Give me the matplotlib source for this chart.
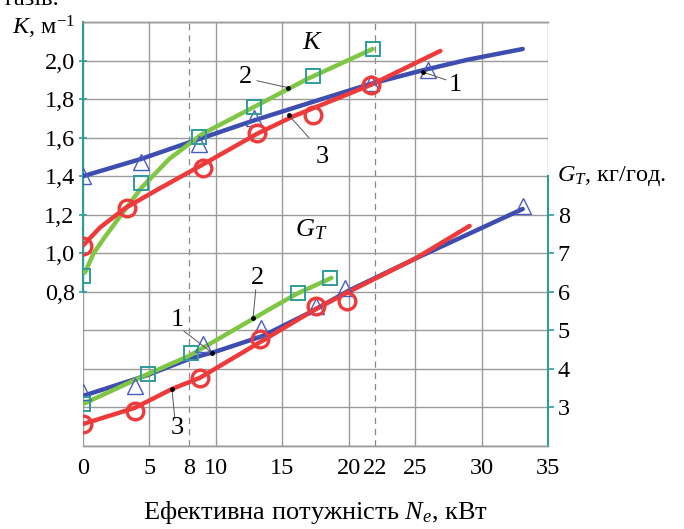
import matplotlib
matplotlib.use("Agg")
import matplotlib.pyplot as plt

plt.rcParams['font.family'] = ['Liberation Serif', 'DejaVu Serif']
plt.rcParams['mathtext.fontset'] = 'custom'
plt.rcParams['mathtext.rm'] = 'Liberation Serif'
plt.rcParams['mathtext.it'] = 'Liberation Serif:italic'

# K (left axis) - fitted lines
k1_x = [0, 4.4, 8.4, 12.9, 17.5, 21.7, 25.6, 29, 33.1]
k1_y = [1.40, 1.49, 1.585, 1.69, 1.79, 1.88, 1.95, 2.005, 2.06]
k2_x = [0.15, 0.8, 1.6, 3.2, 4.4, 6.5, 9.0, 12.9, 16.9, 21.8]
k2_y = [0.90, 1.00, 1.08, 1.23, 1.34, 1.49, 1.62, 1.76, 1.905, 2.06]
k3_x = [0, 1.3, 3.2, 5.6, 9.0, 13.1, 15.8, 21.7, 26.9]
k3_y = [1.04, 1.135, 1.235, 1.33, 1.46, 1.62, 1.71, 1.875, 2.05]
# K measured points
k1_px = [0, 4.4, 8.7, 12.9, 21.7, 26.0]
k1_py = [1.40, 1.475, 1.565, 1.70, 1.885, 1.95]
k2_px = [0, 4.4, 8.7, 12.9, 17.3, 21.8]
k2_py = [0.88, 1.365, 1.605, 1.76, 1.92, 2.06]
k3_px = [0, 3.3, 9.0, 13.1, 17.3, 21.7]
k3_py = [1.04, 1.235, 1.44, 1.625, 1.72, 1.875]

# G_T (right axis) - fitted lines
g1_x = [0, 4.7, 8.0, 10.0, 13.5, 17.0, 20.0, 25.0, 33.1]
g1_y = [3.30, 3.82, 4.26, 4.45, 4.85, 5.45, 6.03, 6.86, 8.15]
g2_x = [0, 4.9, 8.0, 12.8, 14.4, 16.1, 18.7]
g2_y = [3.09, 3.87, 4.34, 5.30, 5.62, 5.95, 6.36]
g3_x = [0, 3.9, 6.7, 8.8, 13.5, 17.5, 20.0, 25.0, 29.1]
g3_y = [2.57, 2.99, 3.48, 3.77, 4.73, 5.55, 6.00, 6.86, 7.71]
# G_T measured points
g1_px = [0, 3.9, 9.0, 13.4, 17.5, 19.7, 33.1]
g1_py = [3.40, 3.55, 4.65, 5.05, 5.62, 6.10, 8.23]
g2_px = [0, 4.9, 8.1, 16.2, 18.6]
g2_py = [3.09, 3.87, 4.40, 5.97, 6.37]
g3_px = [0, 3.9, 8.8, 13.3, 17.5, 19.9]
g3_py = [2.57, 2.92, 3.77, 4.78, 5.62, 5.77]

x_ticks = [0, 5, 8, 10, 15, 20, 22, 25, 30, 35]
k_ticks = [0.8, 1.0, 1.2, 1.4, 1.6, 1.8, 2.0]
g_ticks = [3, 4, 5, 6, 7, 8]

blue = '#3d4db0'
red = '#ee3a3a'
green = '#80c645'
teal = '#2f9c9c'
grid = '#9a9a9a'
fs = 17.5

fig = plt.figure(figsize=(6.84, 5.29), dpi=100)
ax = fig.add_axes([83 / 684, 83 / 529, 465 / 684, 424 / 529])
ax2 = ax.twinx()

ax.set_xlim(0, 35)
ax.set_ylim(0, 2.2)
ax2.set_ylim(2, 13)

# grid
for xv in [0, 5, 10, 15, 20, 25, 30, 35]:
    ax.axvline(xv, color=grid, lw=1, zorder=0)
for xv in [8, 22]:
    ax.axvline(xv, color='#888888', lw=0.9, ls=(0, (5, 4)), zorder=0)
for i in range(12):
    ax.axhline(i * 0.2, color=grid, lw=1, zorder=0)

lw = 3.2
ax.plot(k1_x, k1_y, color=blue, lw=lw, solid_capstyle='round', solid_joinstyle='round', zorder=3)
ax.plot(k2_x, k2_y, color=green, lw=lw, solid_capstyle='round', solid_joinstyle='round', zorder=3)
ax.plot(k3_x, k3_y, color=red, lw=lw, solid_capstyle='round', solid_joinstyle='round', zorder=3)
ax2.plot(g1_x, g1_y, color=blue, lw=lw, solid_capstyle='round', solid_joinstyle='round', zorder=3)
ax2.plot(g2_x, g2_y, color=green, lw=lw, solid_capstyle='round', solid_joinstyle='round', zorder=3)
ax2.plot(g3_x, g3_y, color=red, lw=lw, solid_capstyle='round', solid_joinstyle='round', zorder=3)

tri = dict(ls='none', marker='^', ms=11, mfc='none', mec='#4a5cc0', mew=1.0, zorder=4)
sq = dict(ls='none', marker='s', ms=10, mfc='none', mec=teal, mew=1.4, zorder=4)
circ = dict(ls='none', marker='o', ms=12, mfc='none', mec=red, mew=2.4, zorder=4)
ax.plot(k1_px, k1_py, **tri)
ax.plot(k2_px, k2_py, **sq)
ax.plot(k3_px, k3_py, **circ)
ax2.plot(g1_px, g1_py, **tri)
ax2.plot(g2_px, g2_py, **sq)
ax2.plot(g3_px, g3_py, **circ)

# spines
for a in (ax, ax2):
    for s in a.spines.values():
        s.set_color(grid)
        s.set_linewidth(1)
ax.spines['left'].set_color(teal)
ax.spines['left'].set_linewidth(1.5)
ax.spines['left'].set_bounds(0.8, 2.2)
ax2.spines['right'].set_color(teal)
ax2.spines['right'].set_linewidth(1.5)
ax2.spines['right'].set_bounds(2, 9)
ax2.spines['left'].set_visible(False)
ax.spines['right'].set_visible(False)

ax.set_xticks(x_ticks)
ax.set_xticklabels([str(v) for v in x_ticks])
ax.tick_params(axis='x', length=0, pad=9, labelsize=fs)
ax.set_yticks(k_ticks)
ax.set_yticklabels([f'{v:.1f}'.replace('.', ',') for v in k_ticks])
ax.tick_params(axis='y', length=6, direction='inout', color=teal, width=1.2, labelsize=fs, pad=3)
ax2.set_yticks(g_ticks)
ax2.tick_params(axis='y', length=4, direction='out', color=teal, width=1.2, labelsize=fs, pad=3)

ax.set_xlabel('Ефективна потужність $N_e$, кВт', fontsize=19, labelpad=14)

fig.text(12 / 684, 1 - 27 / 529, '$K$, м$^{\\mathregular{-1}}$', fontsize=fs, va='center')
fig.text(557 / 684, 1 - 176 / 529, '$G_T$, кг/год.', fontsize=fs, va='center')
fig.text(5 / 684, 1 - 5 / 529, 'газів.', fontsize=fs, va='baseline')
ax.text(17.3, 2.09, '$K$', fontsize=19, ha='center', va='center')
ax.text(17.2, 1.12, '$G_T$', fontsize=19, ha='center', va='center')

# curve number labels with leader lines
labels = [
    (ax, '2', (12.2, 1.915), (13.1, 1.895), (15.4, 1.86)),
    (ax, '3', (18.0, 1.50), (17.0, 1.60), (15.5, 1.715)),
    (ax, '1', (28.0, 1.875), (27.3, 1.90), (25.6, 1.94)),
    (ax2, '2', (13.1, 6.36), (13.0, 6.05), (12.8, 5.32)),
    (ax2, '1', (7.1, 5.28), (7.6, 4.98), (9.7, 4.42)),
    (ax2, '3', (7.1, 2.47), (6.9, 2.75), (6.7, 3.47)),
]
for a, t, tp, p0, p1 in labels:
    a.text(tp[0], tp[1], t, fontsize=19, ha='center', va='center', zorder=6)
    a.plot([p0[0], p1[0]], [p0[1], p1[1]], color='#555555', lw=0.7, zorder=5)
    a.plot([p1[0]], [p1[1]], 'o', color='black', ms=2.5, zorder=6)

fig.savefig('out.png', dpi=100)
